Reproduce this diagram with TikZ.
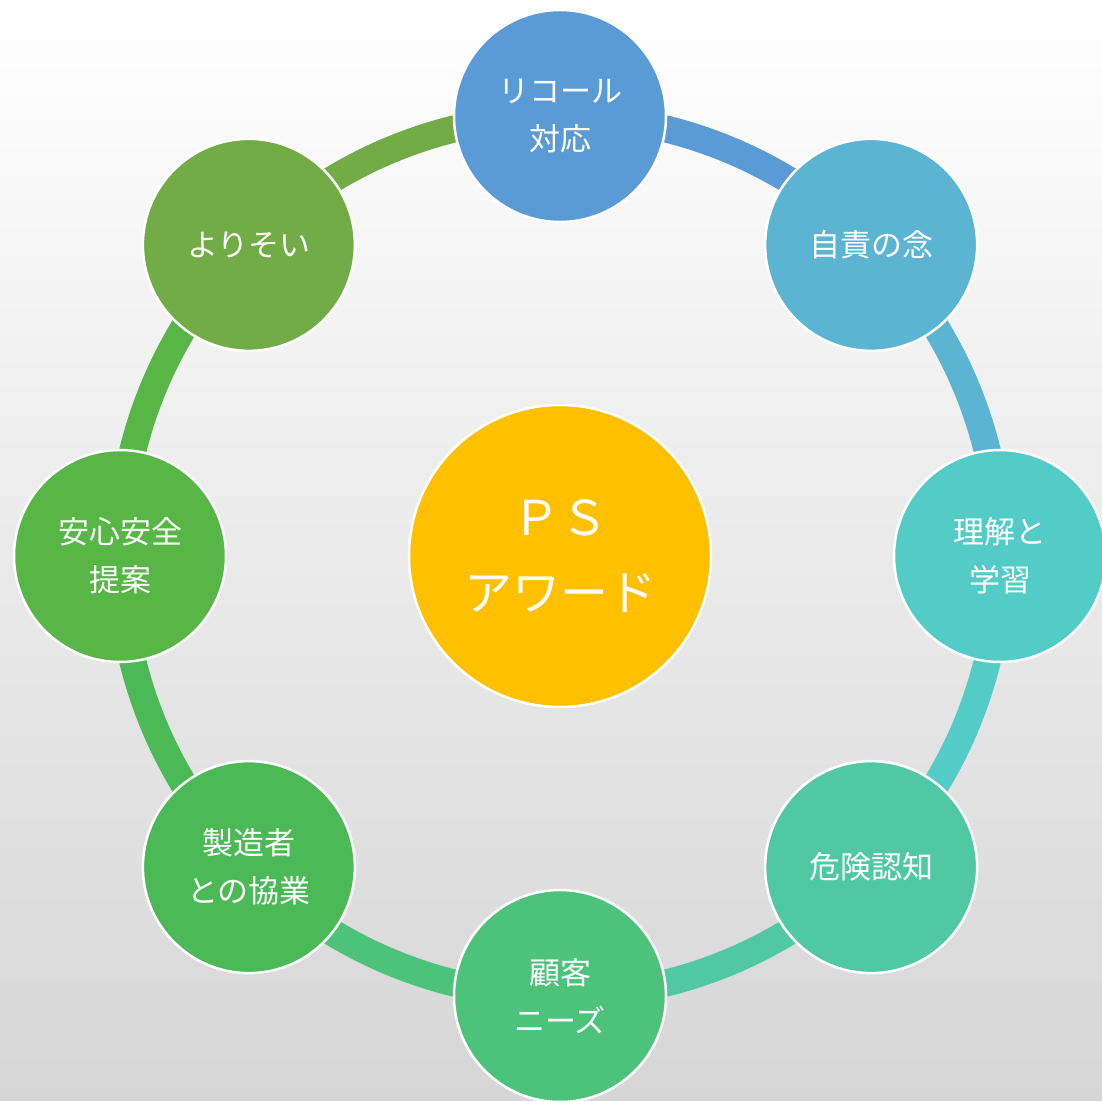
\documentclass[tikz,border=0pt]{standalone}
\usepackage{fontspec}
\setmainfont{Noto Sans CJK JP}
\newfontfamily\jpfont{Noto Sans CJK JP}
\begin{document}
\begin{tikzpicture}[x=1pt,y=1pt,
  outer/.style={circle, minimum size=212pt, inner sep=0pt, draw=white, line width=2.5pt,
    text=white, align=center, font=\jpfont\fontsize{31}{48}\selectfont},
  ring/.style={line width=27pt}]
\definecolor{cA}{HTML}{5B9BD5}
\definecolor{cB}{HTML}{5AB4D2}
\definecolor{cC}{HTML}{53CCC7}
\definecolor{cD}{HTML}{50C8A2}
\definecolor{cE}{HTML}{4CC27B}
\definecolor{cF}{HTML}{4BBA56}
\definecolor{cG}{HTML}{57B646}
\definecolor{cH}{HTML}{71AC46}
\definecolor{gold}{HTML}{FFC000}
\definecolor{bgbot}{HTML}{D6D6D6}
\definecolor{bgmid}{HTML}{F2F2F2}
\useasboundingbox (0,0) rectangle (1102,1100);
\clip (0,0) rectangle (1102,1100);
\shade[top color=white, middle color=bgmid, bottom color=bgbot] (0,0) rectangle (1102,1100);
\coordinate (C) at (560,544);
% outer nodes positions
\path (C) ++(90:440) coordinate (p1);
\path (C) ++(45:440) coordinate (p2);
\path (C) ++(0:440) coordinate (p3);
\path (C) ++(-45:440) coordinate (p4);
\path (C) ++(-90:440) coordinate (p5);
\path (C) ++(-135:440) coordinate (p6);
\path (C) ++(180:440) coordinate (p7);
\path (C) ++(135:440) coordinate (p8);
% ring arcs
\draw[ring, cA] (p1) arc[start angle=90, end angle=45, radius=440];
\draw[ring, cB] (p2) arc[start angle=45, end angle=0, radius=440];
\draw[ring, cC] (p3) arc[start angle=0, end angle=-45, radius=440];
\draw[ring, cD] (p4) arc[start angle=-45, end angle=-90, radius=440];
\draw[ring, cE] (p5) arc[start angle=-90, end angle=-135, radius=440];
\draw[ring, cF] (p6) arc[start angle=-135, end angle=-180, radius=440];
\draw[ring, cG] (p7) arc[start angle=180, end angle=135, radius=440];
\draw[ring, cH] (p8) arc[start angle=135, end angle=90, radius=440];
% nodes
\node[outer, fill=cA] (n1) at (p1) {リコール\\対応};
\node[outer, fill=cB] (n2) at (p2) {自責の念};
\node[outer, fill=cC] (n3) at (p3) {理解と\\学習};
\node[outer, fill=cD] (n4) at (p4) {危険認知};
\node[outer, fill=cE] (n5) at (p5) {顧客\\ニーズ};
\node[outer, fill=cF] (n6) at (p6) {製造者\\との協業};
\node[outer, fill=cG] (n7) at (p7) {安心安全\\提案};
\node[outer, fill=cH] (n8) at (p8) {よりそい};
\node[circle, minimum size=302pt, inner sep=0pt, draw=white, line width=2.5pt, fill=gold,
  text=white, align=center, font=\jpfont\fontsize{48}{75}\selectfont] (ctr) at (C) {ＰＳ\\アワード};
\end{tikzpicture}
\end{document}
